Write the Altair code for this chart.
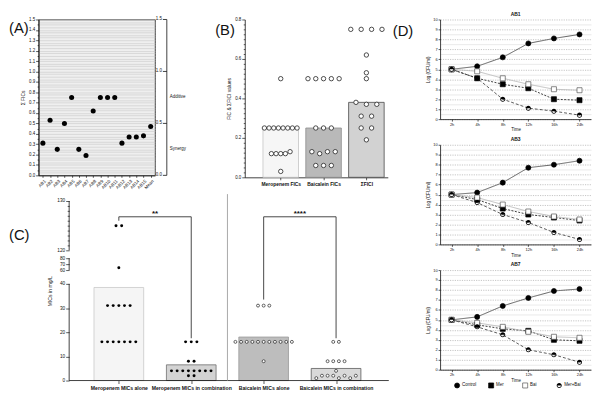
import json
import altair as alt
import pandas as pd

FONT = "Liberation Sans"
INK = "#111111"

# ---------------- data ----------------
panel_labels = ["(A)", "(B)", "(C)", "(D)"]

# Panel A
isolates = ["AB1", "AB2", "AB3", "AB4", "AB5", "AB6", "AB7", "AB8", "AB9", "AB10",
            "AB11", "AB12", "AB13", "AB14", "AB15", "Mean"]
sum_fics = [0.31, 0.53, 0.25, 0.50, 0.75, 0.25, 0.19, 0.62, 0.75, 0.75,
            0.75, 0.31, 0.37, 0.37, 0.38, 0.47]
zone_labels = ["Synergy", "Additive"]
zone_values = [0.25, 0.75]
zone_axis_ticks = [0.0, 0.5, 1.0, 1.5]

# Panel B
fic_groups = ["Meropenem FICs", "Baicalein FICs", "ΣFICI"]
fic_means = [0.25, 0.25, 0.38]
mer_fics = [0.50, 0.25, 0.25, 0.25, 0.25, 0.25, 0.25, 0.25, 0.25,
            0.12, 0.12, 0.12, 0.12, 0.13, 0.03]
bai_fics = [0.50, 0.50, 0.50, 0.50, 0.50, 0.25, 0.25, 0.25,
            0.13, 0.12, 0.13, 0.13, 0.06, 0.06, 0.06]
sum_fici = [0.75, 0.75, 0.75, 0.75, 0.62, 0.53, 0.50, 0.38, 0.37, 0.37,
            0.31, 0.31, 0.25, 0.25, 0.19]

# Panel C
mic_groups = ["Meropenem MICs alone", "Meropenem MICs in combination",
              "Baicalein MICs alone", "Baicalein MICs in combination"]
mic_means = [38.5, 6.5, 18.0, 5.0]
mer_alone = [125, 125, 64, 31, 31, 31, 31, 31, 16, 16, 16, 16, 16, 16, 16]
mer_combo = [16, 16, 16, 8, 8, 4, 4, 4, 4, 4, 4, 4, 4, 2, 2]
bai_alone = [31, 31, 31, 16, 16, 16, 16, 16, 16, 16, 16, 16, 16, 16, 8]
bai_combo = [16, 16, 8, 8, 8, 8, 4, 1, 2, 2, 2, 1, 2, 1, 2]
mic_ticks = [0, 10, 20, 30, 40, 60, 70, 80, 120, 130]
mic_minor_ticks = [121, 122, 123, 124, 125, 126, 127, 128, 129]
mic_segments_lo = [0, 60, 120]
mic_segments_hi = [40, 80, 130]
comparison_pairs = [(0, 1), (2, 3)]
comparison_stars = ["**", "****"]
bracket_level = 126.8
bracket_leg_ends = [(126.0, 17.5), (33.5, 17.5)]

# Panel D
times = ["2h", "4h", "8h", "12h", "16h", "24h"]
treatments = ["Control", "Mer", "Bai", "Mer+Bai"]
strains = ["AB1", "AB3", "AB7"]
ab1_control = [5.0, 5.3, 6.2, 7.6, 8.1, 8.5]
ab1_mer = [5.0, 4.1, 3.5, 3.1, 2.0, 1.9]
ab1_bai = [5.0, 4.8, 4.1, 3.5, 3.0, 2.9]
ab1_merbai = [5.0, 4.1, 2.0, 1.1, 0.8, 0.4]
ab3_control = [5.0, 5.2, 6.2, 7.7, 8.0, 8.4]
ab3_mer = [5.0, 4.5, 3.6, 3.0, 2.7, 2.4]
ab3_bai = [5.0, 4.7, 4.0, 3.3, 2.8, 2.5]
ab3_merbai = [5.0, 4.2, 3.0, 2.2, 1.2, 0.5]
ab7_control = [5.0, 5.3, 6.4, 7.2, 7.9, 8.1]
ab7_mer = [5.0, 4.5, 4.1, 3.9, 3.0, 2.9]
ab7_bai = [5.0, 4.7, 4.3, 3.8, 3.3, 3.2]
ab7_merbai = [5.0, 4.3, 3.5, 2.0, 1.5, 0.75]


# ---------------- helpers ----------------
def axis(**kw):
    props = dict(domainColor=INK, tickColor=INK, labelColor=INK, titleColor=INK,
                 domainWidth=0.8, tickWidth=0.7, labelFont=FONT, titleFont=FONT,
                 titleFontWeight="normal", grid=False, labelOverlap=False, labelFlush=False)
    props.update(kw)
    return alt.Axis(**props)


def panel_label(text, x, y):
    return alt.Chart(pd.DataFrame({"label": [text]})).mark_text(
        align="left", baseline="middle", fontSize=15, font=FONT, color=INK
    ).encode(text="label:N", x=alt.value(x), y=alt.value(y))


def swarm(groups_values, tol, spacing):
    rows = []
    for gi, vals in enumerate(groups_values):
        order = sorted(range(len(vals)), key=lambda i: (vals[i], i))
        clusters = []
        for i in order:
            if clusters and vals[i] - vals[clusters[-1][0]] <= tol:
                clusters[-1].append(i)
            else:
                clusters.append([i])
        for cl in clusters:
            cl = sorted(cl)
            k = len(cl)
            for j, i in enumerate(cl):
                rows.append({"g": gi, "v": vals[i], "xpos": gi + (j - (k - 1) / 2) * spacing[gi]})
    return pd.DataFrame(rows)


# ---------------- Panel A ----------------
A_W, A_H = 118, 158
a_grid = [round(i * 0.025, 3) for i in range(61)]
a_major = "abs(datum.value * 10 - round(datum.value * 10)) < 0.001"
a_half = "abs(datum.value * 20 - round(datum.value * 20)) < 0.001"
a_scale = alt.Scale(domain=[0, 1.5], nice=False, zero=False)
a_y_axis = axis(title="Σ FICs", values=a_grid,
                labelExpr=f"({a_major}) ? format(datum.value, '.1f') : ''",
                labelFontSize=4.5, labelPadding=1, titleFontSize=5, titlePadding=3,
                grid=True, gridColor="#c9c9c9", gridWidth=0.6,
                tickColor={"condition": {"test": a_half, "value": INK}, "value": "transparent"},
                tickSize={"condition": {"test": a_major, "value": 3}, "value": 1.5})
a_x_axis = axis(title=None, labelAngle=-45, labelFontSize=4.5, tickSize=2, labelPadding=1)
a_x = alt.X("isolate:N", sort=isolates, scale=alt.Scale(type="point", padding=0.6), axis=a_x_axis)

a_points = alt.Chart(pd.DataFrame({"isolate": isolates, "fic": sum_fics})).mark_circle(
    size=26, color="#000000", opacity=1
).encode(x=a_x, y=alt.Y("fic:Q", scale=a_scale, axis=a_y_axis))

a_rax_x = A_W + 12
a_rax_line = alt.Chart(pd.DataFrame({"lo": [zone_axis_ticks[0]], "hi": [zone_axis_ticks[-1]]})).mark_rule(
    color=INK, strokeWidth=0.8
).encode(x=alt.value(a_rax_x), y=alt.Y("lo:Q", scale=a_scale, axis=a_y_axis), y2="hi:Q")
a_rax_ticks = alt.Chart(pd.DataFrame({"t": zone_axis_ticks})).mark_rule(color=INK, strokeWidth=0.8).encode(
    x=alt.value(a_rax_x - 4), x2=alt.value(a_rax_x), y=alt.Y("t:Q", scale=a_scale, axis=a_y_axis))
a_rax_labels = alt.Chart(pd.DataFrame({"t": zone_axis_ticks})).transform_calculate(
    lab="format(datum.t, '.1f')"
).mark_text(align="right", baseline="middle", fontSize=4.5, font=FONT, color=INK).encode(
    x=alt.value(a_rax_x - 5), y=alt.Y("t:Q", scale=a_scale, axis=a_y_axis), text="lab:N")
a_zones = alt.Chart(pd.DataFrame({"zone": zone_labels, "level": zone_values})).mark_text(
    align="left", baseline="middle", fontSize=4.5, font=FONT, color=INK
).encode(x=alt.value(a_rax_x + 3), y=alt.Y("level:Q", scale=a_scale, axis=a_y_axis), text="zone:N")

A = alt.layer(a_points, a_rax_line, a_rax_ticks, a_rax_labels, a_zones,
              panel_label(panel_labels[0], -30, 9)).properties(
    width=A_W, height=A_H,
    view=alt.ViewBackground(fill="#efefef", stroke=INK, strokeWidth=0.8))

# ---------------- Panel B ----------------
B_W, B_H = 145, 160
b_domain = [-0.84, 2.5]
b_half = 0.415
b_spacing = [0.109, 0.182, 0.243]
b_x = alt.Scale(domain=b_domain, nice=False, zero=False)
b_y = alt.Scale(domain=[0, 0.8], nice=False, zero=False)
b_grid = [round(i * 0.025, 3) for i in range(33)]
b_major = "abs(datum.value * 5 - round(datum.value * 5)) < 0.001"
b_x_axis = axis(title=None, values=list(range(len(fic_groups))),
                labelExpr=f"{json.dumps(fic_groups, ensure_ascii=False)}[datum.value]",
                labelFontSize=5, labelFontWeight="bold", tickSize=2.5, labelPadding=2)
b_y_axis = axis(title="FIC & ΣFICI values", values=b_grid,
                labelExpr=f"({b_major}) ? format(datum.value, '.1f') : ''",
                labelFontSize=4.5, labelPadding=1, titleFontSize=5, titlePadding=3,
                tickSize={"condition": {"test": b_major, "value": 3}, "value": 1.5})

b_bar_df = pd.DataFrame({"group": fic_groups, "mean": fic_means,
                         "lo": [i - b_half for i in range(len(fic_groups))],
                         "hi": [i + b_half for i in range(len(fic_groups))]})
b_bars = alt.Chart(b_bar_df).mark_bar(strokeWidth=0.8).encode(
    x=alt.X("lo:Q", scale=b_x, axis=b_x_axis),
    x2="hi:Q",
    y=alt.Y("mean:Q", scale=b_y, axis=b_y_axis),
    y2=alt.datum(0),
    fill=alt.Fill("group:N", scale=alt.Scale(domain=fic_groups, range=["#f6f6f6", "#b9b9b9", "#d2d2d2"]), legend=None),
    stroke=alt.Stroke("group:N", scale=alt.Scale(domain=fic_groups, range=["#c4c4c4", "#8c8c8c", "#4a4a4a"]), legend=None),
)
b_pts = swarm([mer_fics, bai_fics, sum_fici], 0.015, b_spacing)
b_points = alt.Chart(b_pts).mark_point(
    shape="circle", filled=False, fill="white", fillOpacity=1, stroke="#222222",
    strokeWidth=0.8, size=20, opacity=1
).encode(x=alt.X("xpos:Q", scale=b_x, axis=b_x_axis), y=alt.Y("v:Q", scale=b_y, axis=b_y_axis))

B = alt.layer(b_bars, b_points, panel_label(panel_labels[1], -30, 10.5),
              panel_label(panel_labels[3], B_W + 5, 12)).properties(width=B_W, height=B_H)

# ---------------- Panel C ----------------
C_OFF = 31            # gap between the column's left edge and panel C's value axis
C_CORE_W, C_H = 324, 182
C_W = C_OFF + C_CORE_W
c_core = [-0.686, 3.728]
c_step = C_CORE_W / (c_core[1] - c_core[0])
c_domain = [c_core[0] - C_OFF / c_step, c_core[1]]
c_half = 0.343
c_spacing = [0.078, 0.078, 0.078, 0.078]
c_x = alt.Scale(domain=c_domain, nice=False, zero=False)
c_break_px = [182, 84, 70, 58, 50, 0]
c_y = alt.Scale(domain=[0, 40, 60, 80, 120, 130], range=[C_H * p / 182 for p in c_break_px],
                nice=False, zero=False)
c_minor = "datum.value > 120 && datum.value < 130"
c_x_axis = axis(title=None, values=list(range(len(mic_groups))), domain=False,
                labelExpr=f"{json.dumps(mic_groups, ensure_ascii=False)}[datum.value]",
                labelFontSize=5.2, labelFontWeight="bold", tickSize=3, labelPadding=2)
c_y_axis = axis(title="MICs in mg/L", values=mic_ticks + mic_minor_ticks, domain=False,
                offset=-C_OFF,
                labelExpr=f"({c_minor}) ? '' : format(datum.value, '.0f')",
                labelFontSize=4.8, labelPadding=1, titleFontSize=5.2, titlePadding=4,
                tickSize={"condition": {"test": c_minor, "value": 2}, "value": 3.5})

c_bar_df = pd.DataFrame({"group": mic_groups, "mean": mic_means,
                         "lo": [i - c_half for i in range(len(mic_groups))],
                         "hi": [i + c_half for i in range(len(mic_groups))]})
c_bars = alt.Chart(c_bar_df).mark_bar(strokeWidth=0.8).encode(
    x=alt.X("lo:Q", scale=c_x, axis=c_x_axis),
    x2="hi:Q",
    y=alt.Y("mean:Q", scale=c_y, axis=c_y_axis),
    y2=alt.datum(0),
    fill=alt.Fill("group:N", scale=alt.Scale(domain=mic_groups, range=["#f5f5f5", "#d3d3d3", "#bdbdbd", "#d9d9d9"]), legend=None),
    stroke=alt.Stroke("group:N", scale=alt.Scale(domain=mic_groups, range=["#c8c8c8", "#6e6e6e", "#9a9a9a", "#5a5a5a"]), legend=None),
)
c_base = alt.Chart(pd.DataFrame({"lo": [c_core[0]], "hi": [c_core[1]], "zero": [0]})).mark_rule(
    color=INK, strokeWidth=0.8
).encode(x=alt.X("lo:Q", scale=c_x, axis=c_x_axis), x2="hi:Q", y=alt.Y("zero:Q", scale=c_y, axis=c_y_axis))
c_segs = alt.Chart(pd.DataFrame({"lo": mic_segments_lo, "hi": mic_segments_hi})).mark_rule(
    color=INK, strokeWidth=0.8
).encode(x=alt.value(C_OFF), y=alt.Y("lo:Q", scale=c_y, axis=c_y_axis), y2="hi:Q")

c_sep = alt.Chart(pd.DataFrame({"s": [(1 + 2) / 2]})).mark_rule(color="#a8a8a8", strokeWidth=1).encode(
    x=alt.X("s:Q", scale=c_x, axis=c_x_axis), y=alt.value(-7), y2=alt.value(C_H))

br_rows = []
for (a, b), (ea, eb) in zip(comparison_pairs, bracket_leg_ends):
    br_rows.append(dict(x=a, x2=b, y=bracket_level, y2=bracket_level))
    br_rows.append(dict(x=a, x2=a, y=bracket_level, y2=ea))
    br_rows.append(dict(x=b, x2=b, y=bracket_level, y2=eb))
c_brackets = alt.Chart(pd.DataFrame(br_rows)).mark_rule(color="#333333", strokeWidth=0.9).encode(
    x=alt.X("x:Q", scale=c_x, axis=c_x_axis), x2="x2:Q",
    y=alt.Y("y:Q", scale=c_y, axis=c_y_axis), y2="y2:Q")
c_stars = alt.Chart(pd.DataFrame({
    "mid": [(a + b) / 2 for a, b in comparison_pairs],
    "stars": comparison_stars,
    "lvl": [bracket_level] * len(comparison_pairs)})).mark_text(
    baseline="bottom", dy=1.5, fontSize=8, fontWeight="bold", font=FONT, color=INK
).encode(x=alt.X("mid:Q", scale=c_x, axis=c_x_axis), y=alt.Y("lvl:Q", scale=c_y, axis=c_y_axis),
         text="stars:N")

c_pts = swarm([mer_alone, mer_combo, bai_alone, bai_combo], 1.1, c_spacing)
c_mer = alt.Chart(c_pts[c_pts.g < 2]).mark_circle(size=9, color="#000000", opacity=1).encode(
    x=alt.X("xpos:Q", scale=c_x, axis=c_x_axis), y=alt.Y("v:Q", scale=c_y, axis=c_y_axis))
c_bai = alt.Chart(c_pts[c_pts.g >= 2]).mark_point(
    shape="circle", filled=False, fill="white", fillOpacity=1, stroke="#222222",
    strokeWidth=0.7, size=9, opacity=1
).encode(x=alt.X("xpos:Q", scale=c_x, axis=c_x_axis), y=alt.Y("v:Q", scale=c_y, axis=c_y_axis))

C = alt.layer(c_bars, c_base, c_segs, c_sep, c_brackets, c_stars, c_mer, c_bai,
              panel_label(panel_labels[2], -30, 35)).properties(width=C_W, height=C_H)

# ---------------- Panel D ----------------
D_W, D_H = 153, 101
d_half = [i * 0.5 for i in range(21)]
d_int = "datum.value % 1 === 0"
half_circle = "M-1,0A1,1,0,0,1,1,0Z M-1,0A1,1,0,0,0,1,0L0.7,0A0.7,0.7,0,0,1,-0.7,0Z"
shape_scale = alt.Scale(domain=treatments, range=["circle", "square", "square", half_circle])
fill_scale = alt.Scale(domain=treatments, range=["#000000", "#000000", "#ffffff", "#000000"])
stroke_scale = alt.Scale(domain=treatments, range=["#000000", "#000000", "#555555", "transparent"])


def time_kill(name, series, with_legend):
    rows = []
    for tr, vals in zip(treatments, series):
        for t, v in zip(times, vals):
            rows.append({"time": t, "treatment": tr, "log": v})
    df = pd.DataFrame(rows)
    x = alt.X("time:N", sort=times, scale=alt.Scale(type="point", padding=0.45, domain=times),
              axis=axis(title="Time", labelFontSize=4, labelAngle=0, tickSize=2, labelPadding=1,
                        titleFontSize=4.5, titlePadding=1))
    y = alt.Y("log:Q", scale=alt.Scale(domain=[0, 10], nice=False, zero=False),
              axis=axis(title="Log (CFU/ml)", values=d_half,
                        labelExpr=f"({d_int}) ? format(datum.value, '.0f') : ''",
                        labelFontSize=4, labelPadding=1, titleFontSize=4.5, titlePadding=2, tickSize=2,
                        tickColor={"condition": {"test": d_int, "value": INK}, "value": "transparent"},
                        grid=True, gridWidth=0.6,
                        gridColor={"condition": {"test": d_int, "value": "#9c9c9c"}, "value": "#dcdcdc"},
                        gridDash={"condition": {"test": d_int, "value": [1.2, 1.2]}, "value": []}))
    base = alt.Chart(df)
    lines = base.mark_line(strokeWidth=0.8).encode(
        x=x, y=y,
        color=alt.Color("treatment:N", scale=alt.Scale(domain=treatments, range=["#3a3a3a", "#111111", "#b0b0b0", "#333333"]), legend=None),
        strokeDash=alt.StrokeDash("treatment:N", scale=alt.Scale(domain=treatments, range=[[1, 0], [2, 1.5], [1, 0], [3, 2]]), legend=None),
    )
    pts = base.mark_point(filled=True, opacity=1, size=26, strokeWidth=0.7).encode(
        x=x, y=y,
        shape=alt.Shape("treatment:N", scale=shape_scale, legend=None),
        fill=alt.Fill("treatment:N", scale=fill_scale, legend=None),
        stroke=alt.Stroke("treatment:N", scale=stroke_scale, legend=None),
    )
    panel = alt.layer(lines, pts)
    if with_legend:
        leg_df = pd.DataFrame({"treatment": treatments})
        leg_x = alt.X("treatment:N", sort=treatments,
                      scale=alt.Scale(type="point", domain=treatments, range=[0, D_W - 15]), axis=None)
        leg_pts = alt.Chart(leg_df).mark_point(filled=True, opacity=1, size=26, strokeWidth=0.7).encode(
            x=leg_x, y=alt.value(D_H + 16),
            shape=alt.Shape("treatment:N", scale=shape_scale, legend=None),
            fill=alt.Fill("treatment:N", scale=fill_scale, legend=None),
            stroke=alt.Stroke("treatment:N", scale=stroke_scale, legend=None),
        )
        leg_txt = alt.Chart(leg_df).mark_text(
            align="left", baseline="middle", dx=5, fontSize=4.5, font=FONT, color=INK
        ).encode(x=leg_x, y=alt.value(D_H + 16), text="treatment:N")
        panel = alt.layer(panel, alt.layer(leg_pts, leg_txt)).resolve_scale(x="independent")
    return panel.properties(
        width=D_W, height=D_H,
        title=alt.TitleParams(name, fontSize=5, fontWeight="bold", font=FONT, offset=1, color=INK))


D1 = time_kill(strains[0], [ab1_control, ab1_mer, ab1_bai, ab1_merbai], False)
D2 = time_kill(strains[1], [ab3_control, ab3_mer, ab3_bai, ab3_merbai], False)
D3 = time_kill(strains[2], [ab7_control, ab7_mer, ab7_bai, ab7_merbai], True)

# ---------------- layout ----------------
res = dict(color="independent", fill="independent", stroke="independent",
           shape="independent", strokeDash="independent")

top_row = alt.hconcat(A, B, spacing=28).resolve_scale(**res)
left = alt.vconcat(top_row, C, spacing=3).resolve_scale(**res)
right = alt.vconcat(D1, D2, D3, spacing=4).resolve_scale(**res)

chart = alt.hconcat(left, right, spacing=11).resolve_scale(**res).properties(
    padding=0, background="white"
).configure(font=FONT).configure_view(stroke="transparent")

chart.save("out.html", embed_options={"renderer": "svg", "actions": False})
